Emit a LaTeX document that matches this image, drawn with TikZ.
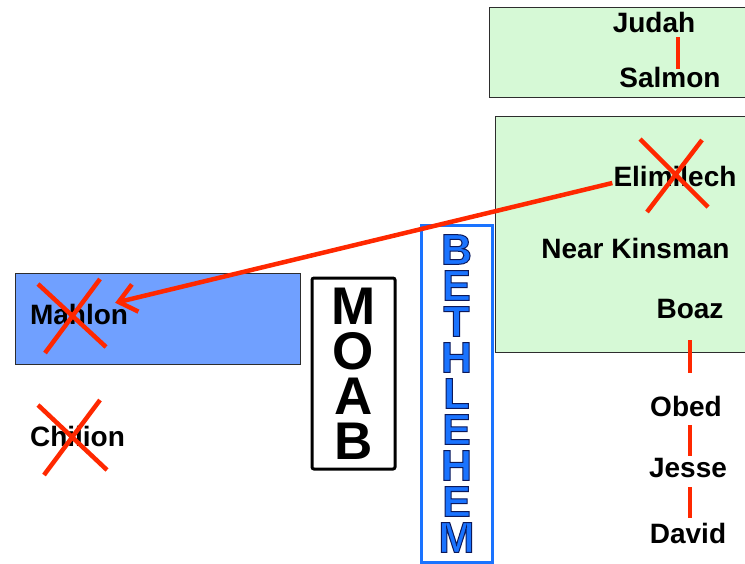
\documentclass[tikz,border=0pt]{standalone}
\usepackage{fontspec}
\setmainfont{Liberation Sans}
\usetikzlibrary{arrows.meta, positioning}
\definecolor{kinred}{RGB}{255,40,0}
\definecolor{landgreen}{RGB}{214,249,214}
\definecolor{moabblue}{RGB}{112,160,255}
\definecolor{bethblue}{RGB}{26,115,255}
\definecolor{edgegray}{RGB}{45,45,45}
\tikzset{%
  >={Straight Barb[length=17pt,width=28pt]},
  % Specifications for style of nodes:
	base/.style = {inner sep=0pt, anchor=base, text height=20pt, text depth=0pt,
                   font=\bfseries\fontsize{28}{30}\selectfont},
	person/.style = {base},
	land/.style = {draw=edgegray, line width=0.8pt, fill=landgreen, anchor=north west},
	exile/.style = {land, fill=moabblue},
	moab/.style = {draw=black, line width=3pt, rounded corners=2pt, align=center,
                   minimum width=83pt, minimum height=191pt, inner sep=0pt,
                   font=\bfseries\fontsize{53}{45}\selectfont},
	bethlehem/.style = {draw=bethblue, line width=3pt, align=center, text=bethblue,
                   minimum width=71pt, minimum height=337pt, inner sep=0pt,
                   font=\bfseries\fontsize{43}{36}\selectfont},
	famline/.style={draw=kinred, line width=4.5pt},
	strike/.style={draw=kinred, line width=4.5pt},
	norm/.style={->, draw=kinred, line width=4.5pt},
}

\begin{document}
\begin{tikzpicture}[x=1pt, y=-1pt]
  \useasboundingbox (0,0) rectangle (745,563);
  % Specification of regions
  \node (judahland) [land, minimum width=262pt, minimum height=90pt] at (489,7) {};
  \node (kinland) [land, minimum width=256pt, minimum height=236pt] at (495,116) {};
  \node (moabland) [exile, minimum width=285pt, minimum height=91pt] at (15,273) {};
  \node (moab) [moab] at (353.5,373.5) {M\\O\\A\\B};
  \node (bethlehem) [bethlehem] at (456.5,393.5)
    {\special{pdf:code 2 Tr 1 w 0.05 0.1 0.35 RG}B\\E\\T\\H\\L\\E\\H\\E\\M};

  % Specification of nodes (position, etc.)
  \node (judah)  [person] at (654,32)  {Judah};
  \node (salmon) [person] at (670,87)  {Salmon};
  \node (elimilech) [person] at (675,186) {Elimilech};
  \node (kinsman) [person] at (635.5,258) {Near Kinsman};
  \node (boaz)   [person] at (690,318) {Boaz};
  \node (obed)   [person] at (686,416) {Obed};
  \node (jesse)  [person] at (688,477) {Jesse};
  \node (david)  [person] at (688,543) {David};
  \node (mahlon) [person] at (79,324)  {Mahlon};
  \node (chilion) [person] at (77.5,446) {Chilion};

  % line of descent
  \draw [famline, shorten <=5pt, shorten >=-2pt] ([xshift=24pt]judah.south) -- ([xshift=24pt]judah.south |- salmon.north);
  \draw [famline, shorten <=22pt, shorten >=23pt] (boaz.south) -- (boaz.south |- obed.north);
  \draw [famline, shorten <=9pt, shorten >=1pt] (boaz.south |- obed.south) -- (boaz.south |- jesse.north);
  \draw [famline, shorten <=10pt, shorten >=5pt] (boaz.south |- jesse.south) -- (boaz.south |- david.north);

  % the dead
  \draw [strike] ([shift={(-35,-37)}]elimilech.center) -- ([shift={(33,31)}]elimilech.center)
                 ([shift={(27,-36)}]elimilech.center) -- ([shift={(-28,36)}]elimilech.center);
  \draw [strike] ([shift={(-41,-30)}]mahlon.center) -- ([shift={(27,33)}]mahlon.center)
                 ([shift={(21,-35)}]mahlon.center) -- ([shift={(-34,39)}]mahlon.center);
  \draw [strike] ([shift={(-39.5,-31)}]chilion.center) -- ([shift={(29.5,34)}]chilion.center)
                 ([shift={(22.5,-36)}]chilion.center) -- ([shift={(-33.5,39)}]chilion.center);

  \draw [norm] ([shift={(-1,7)}]elimilech.west) -- ([shift={(-13,-1)}]mahlon.north east);
\end{tikzpicture}
\end{document}
